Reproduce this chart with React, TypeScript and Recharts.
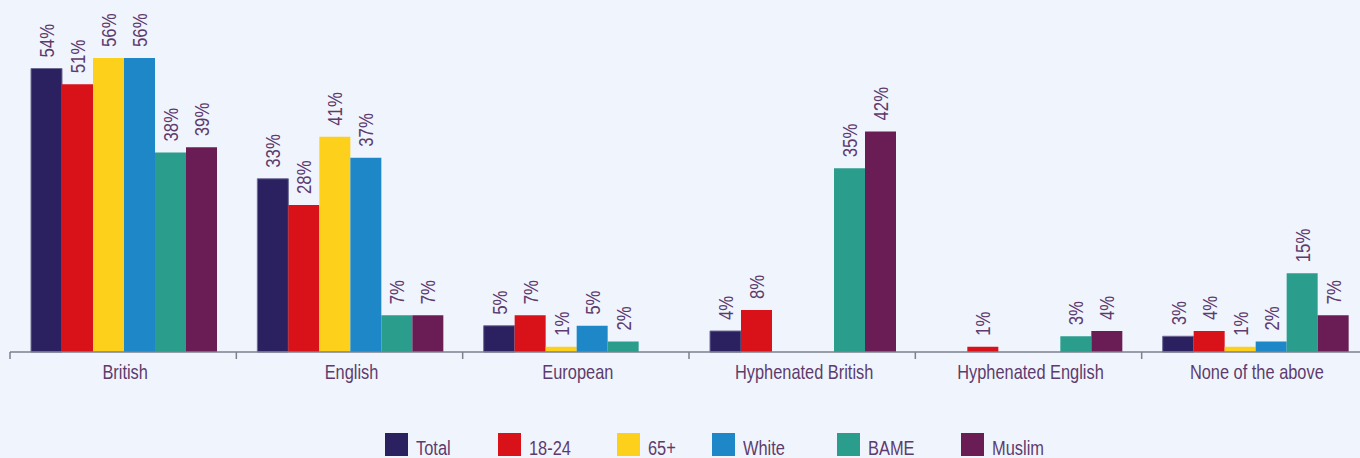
import React from 'react';
import { BarChart, Bar, XAxis, YAxis, LabelList, Legend } from 'recharts';

// Identity categories and share of respondents (%) per group
const categories = ['British', 'English', 'European', 'Hyphenated British', 'Hyphenated English', 'None of the above'];
const total = [54, 33, 5, 4, null, 3];
const age1824 = [51, 28, 7, 8, 1, 4];
const age65 = [56, 41, 1, null, null, 1];
const white = [56, 37, 5, null, null, 2];
const bame = [38, 7, 2, 35, 3, 15];
const muslim = [39, 7, null, 42, 4, 7];

const seriesKeys = ['total', 'age1824', 'age65', 'white', 'bame', 'muslim'];
const seriesNames = ['Total', '18-24', '65+', 'White', 'BAME', 'Muslim'];
const seriesColors = ['#2b2160', '#d91118', '#fdd01c', '#1e87c8', '#2a9d8c', '#6a1d55'];
const seriesValues = [total, age1824, age65, white, bame, muslim];

const data = categories.map((name, i) => {
  const row: Record<string, string | number | null> = { name };
  seriesKeys.forEach((k, s) => {
    row[k] = seriesValues[s][i];
  });
  return row;
});

// Liberation Sans squeezed horizontally gives a narrow grotesque face
const FONT = "'Liberation Sans', Arial, sans-serif";
const NARROW = 0.82;
const TEXT = '#5e3b6d';
const BG = '#f0f5fd';
const AXIS = '#7c7f8e';

// legend item left edges across the bottom strip
const legendLeft = [385, 498, 617, 712, 837, 961];

const ValueLabel = (props: any) => {
  const { value } = props;
  if (value === null || value === undefined) return null;
  const x = props.x ?? props.viewBox?.x;
  const y = props.y ?? props.viewBox?.y;
  const width = props.width ?? props.viewBox?.width;
  const cx = x + width / 2;
  const ty = y - 11;
  return (
    <text
      x={0}
      y={0}
      dy="0.36em"
      transform={`translate(${cx} ${ty}) rotate(-90) scale(0.8 1)`}
      textAnchor="start"
      fill={TEXT}
      fontSize={21}
      fontFamily={FONT}
    >
      {`${value}%`}
    </text>
  );
};

const CategoryTick = (props: any) => {
  const { x, y, payload } = props;
  const half = payload?.offset ?? 0;
  return (
    <g>
      <line x1={x - half} x2={x - half} y1={y} y2={y + 7} stroke={AXIS} strokeWidth={1.5} />
      <text
        x={0}
        y={0}
        transform={`translate(${x + 2} ${y + 27}) scale(${NARROW} 1)`}
        textAnchor="middle"
        fill={TEXT}
        fontSize={20}
        fontFamily={FONT}
      >
        {payload.value}
      </text>
    </g>
  );
};

const LegendContent = () => (
  <div style={{ position: 'relative', width: 1360, height: 0 }}>
    {seriesNames.map((n, i) => (
      <div key={n} style={{ position: 'absolute', left: legendLeft[i], top: 433 }}>
        <div style={{ position: 'absolute', left: 0, top: 0, width: 23, height: 23, background: seriesColors[i] }} />
        <div
          style={{
            position: 'absolute',
            left: 31,
            top: 7,
            fontFamily: FONT,
            fontSize: 20,
            lineHeight: '16px',
            color: TEXT,
            whiteSpace: 'nowrap',
            transform: `scaleX(${NARROW})`,
            transformOrigin: 'left top',
          }}
        >
          {n}
        </div>
      </div>
    ))}
  </div>
);

export default function App() {
  return (
    <div
      style={{
        position: 'absolute',
        left: 0,
        top: 0,
        width: 1360,
        height: 458,
        overflow: 'hidden',
        background: BG,
      }}
    >
      <BarChart
        width={1368}
        height={458}
        data={data}
        margin={{ top: 37, right: 0, bottom: 0, left: 10 }}
        barCategoryGap={21}
        barGap={0}
      >
        <XAxis
          dataKey="name"
          height={106}
          axisLine={{ stroke: AXIS, strokeWidth: 1.5 }}
          tickLine={false}
          tickSize={0}
          tickMargin={0}
          interval={0}
          tick={<CategoryTick />}
        />
        <YAxis hide domain={[0, 60]} />
        <Legend
          content={<LegendContent />}
          wrapperStyle={{ left: 0, top: 0, width: 1360, height: 0, overflow: 'visible' }}
        />
        {seriesKeys.map((k, i) => (
          <Bar
            key={k}
            dataKey={k}
            name={seriesNames[i]}
            fill={seriesColors[i]}
            stroke={k === 'total' ? '#6f6c94' : undefined}
            strokeWidth={k === 'total' ? 1 : 0}
            isAnimationActive={false}
          >
            <LabelList dataKey={k} content={<ValueLabel />} />
          </Bar>
        ))}
      </BarChart>
    </div>
  );
}
